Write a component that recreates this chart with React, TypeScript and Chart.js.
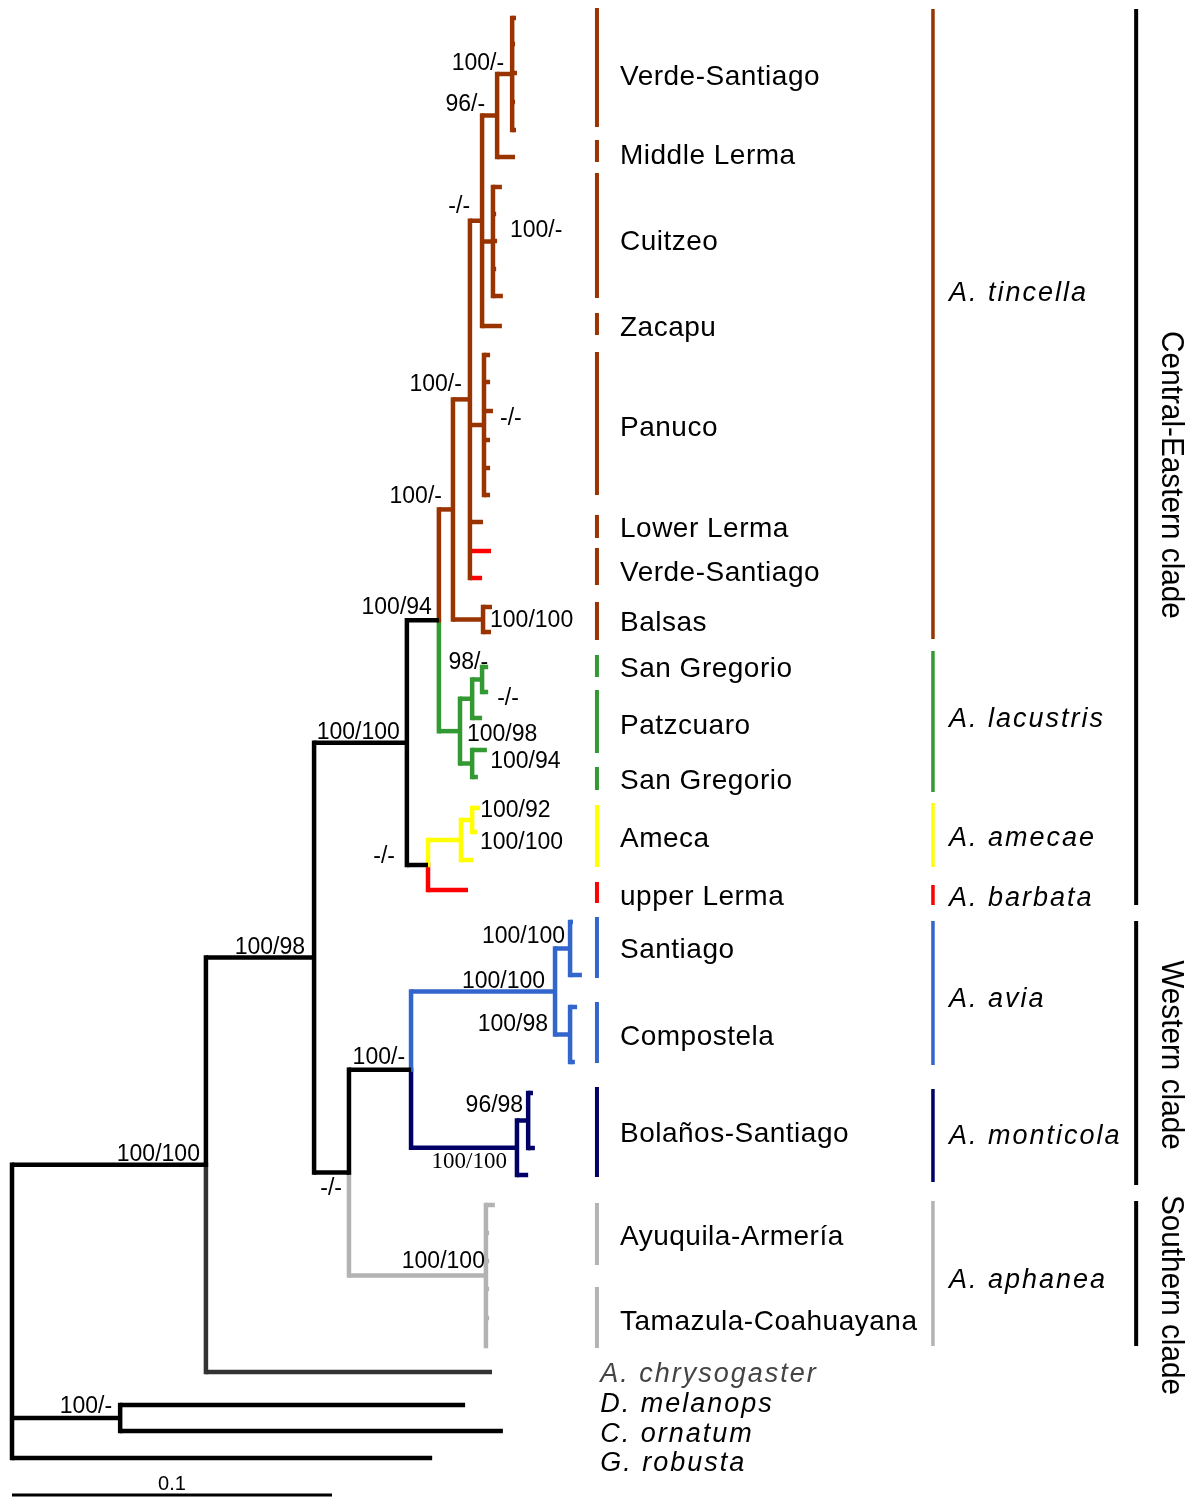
import React, { useEffect, useRef } from 'react';
import { Chart, registerables } from 'chart.js';

Chart.register(...registerables);

// ---------- colours ----------
const BROWN = '#993300';
const GREEN = '#339933';
const YELLOW = '#ffff00';
const RED = '#ff0000';
const BLUE = '#3366cc';
const NAVY = '#000066';
const GRAY = '#b3b3b3';
const BLACK = '#000000';
const DARK = '#333333';

// ---------- tree data (x = distance from root, subst./site ; y = tip row position) ----------
type N = { id?: string; d: number; y?: number; col: string; vcol?: string; kids?: N[] };
const tip = (d: number, y: number, col: string, vcol?: string): N => ({ d, y, col, vcol });
const node = (id: string, d: number, col: string, kids: N[]): N => ({ id, d, col, kids });

const verdeSantiagoD = [0.1575, 0.1572, 0.1578, 0.1572, 0.1575];
const verdeSantiagoY = [18, 44, 73, 102, 130];
const middleLermaTip = [0.1572, 157];
const cuitzeoD = [0.1531, 0.1513, 0.1516, 0.1513, 0.1534];
const cuitzeoY = [187, 214, 241, 269, 296];
const zacapuTip = [0.1531, 326];
const panucoD = [0.1494, 0.1494, 0.1503, 0.1494, 0.1494, 0.1494];
const panucoY = [355, 382, 411, 440, 468, 495];
const lowerLermaTip = [0.1472, 522];
const verdeRedD = [0.1497, 0.1469];
const verdeRedY = [551, 578];
const balsasD = [0.15, 0.1497];
const balsasY = [607, 632];
const lacustrisD = [0.1488, 0.1488, 0.1469, 0.1484, 0.1456];
const lacustrisY = [667, 692, 718, 750, 777];
const amecaeD = [0.1463, 0.1453, 0.1441];
const amecaeY = [808, 832, 860];
const barbataTip = [0.1425, 890];
const aviaD = [0.1753, 0.1781, 0.1766, 0.1759];
const aviaY = [922, 975, 1007, 1062];
const monticolaD = [0.1628, 0.1634, 0.1613];
const monticolaY = [1093, 1148, 1175];
const aphaneaD = [0.1509, 0.1491, 0.1491, 0.1491, 0.1491, 0.1481];
const aphaneaY = [1205, 1233, 1261, 1289, 1318, 1346];
const outgroupD = [0.15, 0.1416, 0.1534, 0.1313];
const outgroupY = [1372, 1405, 1431, 1458];

// internal node depths
const nodeDepth: Record<string, number> = {
  T: 0.1563, Q: 0.1516, S: 0.1503, N: 0.1469, P: 0.1475, L: 0.1431, M: 0.1472, J: 0.1378,
  V: 0.1469, U: 0.1438, W: 0.1438, K: 0.14, H: 0.1334, Y: 0.1438, X: 0.1403, I: 0.13,
  E: 0.1234, AB: 0.1744, AC: 0.1744, AA: 0.1697, AE: 0.1613, AD: 0.1578, Z: 0.1247,
  AF: 0.1481, F: 0.1053, C: 0.0944, A: 0.0606, B: 0.0338, R: 0,
};

const tips = (ds: number[], ys: number[], col: string, from = 0, to = ds.length) =>
  ds.slice(from, to).map((d, i) => tip(d, ys[from + i], col));

function buildTree(): N {
  const nd = (id: string, col: string, kids: N[]) => node(id, nodeDepth[id], col, kids);
  const T = nd('T', BROWN, tips(verdeSantiagoD, verdeSantiagoY, BROWN));
  const Q = nd('Q', BROWN, [T, tip(middleLermaTip[0], middleLermaTip[1], BROWN)]);
  const S = nd('S', BROWN, tips(cuitzeoD, cuitzeoY, BROWN));
  const Nn = nd('N', BROWN, [Q, S, tip(zacapuTip[0], zacapuTip[1], BROWN)]);
  const P = nd('P', BROWN, tips(panucoD, panucoY, BROWN));
  const L = nd('L', BROWN, [
    Nn, P, tip(lowerLermaTip[0], lowerLermaTip[1], BROWN),
    tip(verdeRedD[0], verdeRedY[0], RED, BROWN), tip(verdeRedD[1], verdeRedY[1], RED, BROWN),
  ]);
  const M = nd('M', BROWN, tips(balsasD, balsasY, BROWN));
  const J = nd('J', BROWN, [L, M]);
  const V = nd('V', GREEN, tips(lacustrisD, lacustrisY, GREEN, 0, 2));
  const U = nd('U', GREEN, [V, ...tips(lacustrisD, lacustrisY, GREEN, 2, 3)]);
  const W = nd('W', GREEN, tips(lacustrisD, lacustrisY, GREEN, 3, 5));
  const K = nd('K', GREEN, [U, W]);
  const H = nd('H', BLACK, [J, K]);
  const Yn = nd('Y', YELLOW, tips(amecaeD, amecaeY, YELLOW, 0, 2));
  const X = nd('X', YELLOW, [Yn, ...tips(amecaeD, amecaeY, YELLOW, 2, 3)]);
  const I = nd('I', BLACK, [X, tip(barbataTip[0], barbataTip[1], RED)]);
  const E = nd('E', BLACK, [H, I]);
  const AB = nd('AB', BLUE, tips(aviaD, aviaY, BLUE, 0, 2));
  const AC = nd('AC', BLUE, tips(aviaD, aviaY, BLUE, 2, 4));
  const AA = nd('AA', BLUE, [AB, AC]);
  const AE = nd('AE', NAVY, tips(monticolaD, monticolaY, NAVY, 0, 2));
  const AD = nd('AD', NAVY, [AE, ...tips(monticolaD, monticolaY, NAVY, 2, 3)]);
  const Z = nd('Z', BLACK, [AA, AD]);
  const AF = nd('AF', GRAY, tips(aphaneaD, aphaneaY, GRAY));
  const F = nd('F', BLACK, [Z, AF]);
  const C = nd('C', BLACK, [E, F]);
  const A = nd('A', BLACK, [C, tip(outgroupD[0], outgroupY[0], DARK)]);
  const B = nd('B', BLACK, [tip(outgroupD[1], outgroupY[1], BLACK), tip(outgroupD[2], outgroupY[2], BLACK)]);
  return nd('R', BLACK, [A, B, tip(outgroupD[3], outgroupY[3], BLACK)]);
}

function layout(n: N, map: Record<string, N>): number {
  if (n.kids) {
    const ys = n.kids.map((k) => layout(k, map));
    n.y = (ys[0] + ys[ys.length - 1]) / 2;
  }
  if (n.id) map[n.id] = n;
  return n.y as number;
}

// ---------- support values ----------
type Sup = { id: string; text: string; dx: number; dy: number; align: CanvasTextAlign; serif?: boolean };
const supports: Sup[] = [
  { id: 'T', text: '100/-', dx: -8, dy: -11, align: 'right' },
  { id: 'Q', text: '96/-', dx: -12, dy: -11.5, align: 'right' },
  { id: 'N', text: '-/-', dx: -12, dy: -15.5, align: 'right' },
  { id: 'S', text: '100/-', dx: 17, dy: -11.5, align: 'left' },
  { id: 'L', text: '100/-', dx: -8, dy: -16, align: 'right' },
  { id: 'P', text: '-/-', dx: 16, dy: -7, align: 'left' },
  { id: 'J', text: '100/-', dx: -11, dy: -14, align: 'right' },
  { id: 'M', text: '100/100', dx: 7, dy: 0, align: 'left' },
  { id: 'H', text: '100/94', dx: -7, dy: -14, align: 'right' },
  { id: 'V', text: '98/-', dx: 6, dy: -17.5, align: 'right' },
  { id: 'U', text: '-/-', dx: 25, dy: -1, align: 'left' },
  { id: 'K', text: '100/98', dx: 7, dy: 3, align: 'left' },
  { id: 'W', text: '100/94', dx: 18, dy: -2.5, align: 'left' },
  { id: 'E', text: '100/100', dx: -7, dy: -11, align: 'right' },
  { id: 'Y', text: '100/92', dx: 8, dy: -10, align: 'left' },
  { id: 'X', text: '100/100', dx: 19, dy: 2, align: 'left' },
  { id: 'I', text: '-/-', dx: -33, dy: -9, align: 'right' },
  { id: 'C', text: '100/98', dx: -9, dy: -10.5, align: 'right' },
  { id: 'AB', text: '100/100', dx: -5, dy: -12.5, align: 'right' },
  { id: 'AA', text: '100/100', dx: -10, dy: -10.5, align: 'right' },
  { id: 'AC', text: '100/98', dx: -22, dy: -10.5, align: 'right' },
  { id: 'Z', text: '100/-', dx: -6, dy: -12.6, align: 'right' },
  { id: 'AE', text: '96/98', dx: -5, dy: -15.5, align: 'right' },
  { id: 'AD', text: '100/100', dx: -10, dy: 13, align: 'right', serif: true },
  { id: 'F', text: '-/-', dx: -7, dy: 15.5, align: 'right' },
  { id: 'AF', text: '100/100', dx: -1, dy: -14.5, align: 'right' },
  { id: 'A', text: '100/100', dx: -6, dy: -10.7, align: 'right' },
  { id: 'B', text: '100/-', dx: -8, dy: -12, align: 'right' },
];

// ---------- label columns ----------
const LOC_BAR_X = 0.1828;
const SPECIES_BAR_X = 0.2878;
const CLADE_BAR_X = 0.3513;
const LOC_TEXT_X = 0.19;
const OUT_TEXT_X = 0.1838;
const SPECIES_TEXT_X = 0.2928;
const CLADE_TEXT_X = 0.3622;

const localityBars: [number, number, string][] = [
  [8, 127, BROWN], [140, 162, BROWN], [173, 298, BROWN], [313, 335, BROWN], [352, 495, BROWN],
  [515, 538, BROWN], [548, 585, BROWN], [602, 640, BROWN],
  [655, 677, GREEN], [690, 753, GREEN], [767, 790, GREEN],
  [805, 867, YELLOW], [882, 903, RED],
  [917, 978, BLUE], [1002, 1063, BLUE], [1087, 1177, NAVY],
  [1203, 1265, GRAY], [1287, 1348, GRAY],
];
const localityNames = [
  'Verde-Santiago', 'Middle Lerma', 'Cuitzeo', 'Zacapu', 'Panuco', 'Lower Lerma', 'Verde-Santiago',
  'Balsas', 'San Gregorio', 'Patzcuaro', 'San Gregorio', 'Ameca', 'upper Lerma', 'Santiago',
  'Compostela', 'Bolaños-Santiago', 'Ayuquila-Armería', 'Tamazula-Coahuayana',
];
const localityY = [77, 156, 242, 328, 428, 529, 573, 623, 669, 726, 781, 839, 897, 950, 1037, 1134, 1237, 1322];

const speciesBars: [number, number, string][] = [
  [9, 639, BROWN], [651, 792, GREEN], [803, 867, YELLOW], [885, 905, RED],
  [921, 1065, BLUE], [1089, 1182, NAVY], [1201, 1346, GRAY],
];
const speciesNames = ['A. tincella', 'A. lacustris', 'A. amecae', 'A. barbata', 'A. avia', 'A. monticola', 'A. aphanea'];
const speciesY = [293, 719, 838, 898, 999, 1136, 1280];

const outgroupNames = ['A. chrysogaster', 'D. melanops', 'C. ornatum', 'G. robusta'];
const outgroupLabelY = [1374, 1404, 1434, 1463];
const outgroupColors = ['#444444', BLACK, BLACK, BLACK];

const cladeBars: [number, number][] = [[9, 905], [921, 1185], [1201, 1346]];
const cladeNames = ['Central-Eastern clade', 'Western clade', 'Southern clade'];
const cladeY = [475, 1055, 1295];

const SCALE_BAR = [0, 0.1];
const SCALE_BAR_Y = 1495;
const SCALE_LABEL = '0.1';

const X_MIN = -0.00375;
const X_MAX = 0.368125;
const Y_MAX = 1498;
const TREE_W = 4.5;

function seg(x1: number, y1: number, x2: number, y2: number, color: string, width: number, cap: CanvasLineCap) {
  return {
    data: [{ x: x1, y: y1 }, { x: x2, y: y2 }],
    showLine: true,
    borderColor: color,
    backgroundColor: color,
    borderWidth: width,
    borderCapStyle: cap,
    pointRadius: 0,
    pointHoverRadius: 0,
    fill: false,
    tension: 0,
    clip: false as any,
  };
}

function treeSegments(n: N, out: any[]) {
  if (!n.kids) return;
  const kids = n.kids;
  const vcols = kids.map((k) => k.vcol || k.col);
  const uniform = vcols.every((c) => c === vcols[0]);
  if (uniform) {
    out.push(seg(n.d, kids[0].y as number, n.d, kids[kids.length - 1].y as number, vcols[0], TREE_W, 'square'));
  } else {
    kids.forEach((k, i) => out.push(seg(n.d, n.y as number, n.d, k.y as number, vcols[i], TREE_W, 'square')));
  }
  for (const k of kids) {
    out.push(seg(n.d, k.y as number, k.d, k.y as number, k.col, TREE_W, 'butt'));
    treeSegments(k, out);
  }
}

const SANS = '"Liberation Sans", Arial, Helvetica, sans-serif';

export default function App() {
  const ref = useRef<HTMLCanvasElement | null>(null);
  useEffect(() => {
    document.body.style.margin = '0';
    const canvas = ref.current;
    if (!canvas) return;
    const map: Record<string, N> = {};
    const root = buildTree();
    layout(root, map);

    const datasets: any[] = [];
    treeSegments(root, datasets);
    localityBars.forEach(([a, b, c]) => datasets.push(seg(LOC_BAR_X, a, LOC_BAR_X, b, c, 4, 'butt')));
    speciesBars.forEach(([a, b, c]) => datasets.push(seg(SPECIES_BAR_X, a, SPECIES_BAR_X, b, c, 3.5, 'butt')));
    cladeBars.forEach(([a, b]) => datasets.push(seg(CLADE_BAR_X, a, CLADE_BAR_X, b, BLACK, 4, 'butt')));
    datasets.push(seg(SCALE_BAR[0], SCALE_BAR_Y, SCALE_BAR[1], SCALE_BAR_Y, BLACK, 3, 'butt'));

    const labelPlugin = {
      id: 'treeLabels',
      afterDatasetsDraw(chart: any) {
        const ctx: CanvasRenderingContext2D = chart.ctx;
        const xs = chart.scales.x;
        const ys = chart.scales.y;
        ctx.save();
        ctx.fillStyle = BLACK;
        ctx.textBaseline = 'middle';

        // support values
        for (const s of supports) {
          const n = map[s.id];
          ctx.font = s.serif ? '23px "Liberation Serif", "Times New Roman", serif' : `23px ${SANS}`;
          ctx.textAlign = s.align;
          ctx.fillText(s.text, xs.getPixelForValue(n.d) + s.dx, ys.getPixelForValue(n.y) + s.dy + 1);
        }

        // localities
        ctx.font = `28px ${SANS}`;
        ctx.textAlign = 'left';
        (ctx as any).letterSpacing = '0.5px';
        localityNames.forEach((t, i) => ctx.fillText(t, xs.getPixelForValue(LOC_TEXT_X), ys.getPixelForValue(localityY[i])));

        // species & outgroups (italic, letter-spaced)
        (ctx as any).letterSpacing = '2px';
        ctx.font = `italic 27px ${SANS}`;
        speciesNames.forEach((t, i) => ctx.fillText(t, xs.getPixelForValue(SPECIES_TEXT_X), ys.getPixelForValue(speciesY[i])));
        outgroupNames.forEach((t, i) => {
          ctx.fillStyle = outgroupColors[i];
          ctx.fillText(t, xs.getPixelForValue(OUT_TEXT_X), ys.getPixelForValue(outgroupLabelY[i]));
        });
        (ctx as any).letterSpacing = '0px';
        ctx.fillStyle = BLACK;

        // clade names (rotated)
        ctx.font = `32px ${SANS}`;
        ctx.textAlign = 'center';
        cladeNames.forEach((t, i) => {
          ctx.save();
          ctx.translate(xs.getPixelForValue(CLADE_TEXT_X), ys.getPixelForValue(cladeY[i]));
          ctx.rotate(Math.PI / 2);
          ctx.scale(0.93, 1);
          ctx.fillText(t, 0, 0);
          ctx.restore();
        });

        // scale label
        ctx.font = `20px ${SANS}`;
        ctx.textAlign = 'center';
        ctx.textBaseline = 'alphabetic';
        ctx.fillText(SCALE_LABEL, xs.getPixelForValue((SCALE_BAR[0] + SCALE_BAR[1]) / 2), ys.getPixelForValue(SCALE_BAR_Y) - 5);
        ctx.restore();
      },
    };

    const chart = new Chart(canvas, {
      type: 'scatter',
      data: { datasets },
      options: {
        animation: false,
        responsive: false,
        maintainAspectRatio: false,
        events: [],
        layout: { padding: 0 },
        plugins: { legend: { display: false }, tooltip: { enabled: false } },
        scales: {
          x: { type: 'linear', display: false, min: X_MIN, max: X_MAX },
          y: { type: 'linear', display: false, min: 0, max: Y_MAX, reverse: true },
        },
      },
      plugins: [labelPlugin],
    } as any);
    return () => chart.destroy();
  }, []);

  return (
    <div style={{ width: 1190, height: 1498, background: '#ffffff' }}>
      <canvas ref={ref} width={1190} height={1498} style={{ display: 'block', width: 1190, height: 1498 }} />
    </div>
  );
}
